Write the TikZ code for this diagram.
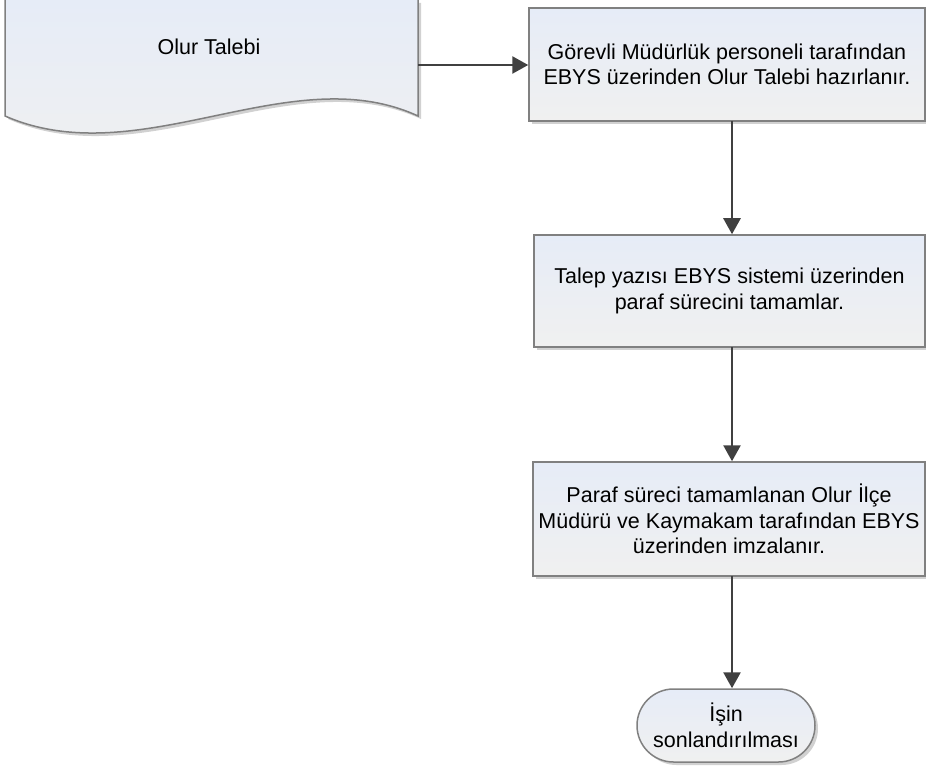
\documentclass[tikz,border=0pt]{standalone}
\usepackage{fontspec}
\setmainfont{Liberation Sans}
\usetikzlibrary{shadows,arrows.meta,shapes.misc}
\definecolor{boxtop}{RGB}{230,236,247}
\definecolor{boxbot}{RGB}{240,240,240}
\definecolor{edgegray}{RGB}{128,128,128}
\definecolor{arrowgray}{RGB}{64,64,64}
\tikzset{
  txt/.style={font=\fontsize{21.5}{25.5}\selectfont, align=center, text=black},
  procbox/.style={draw=edgegray, line width=1.5pt, top color=boxtop, bottom color=boxbot,
     drop shadow={shadow xshift=3pt, shadow yshift=-3pt, fill=black!30, opacity=0.6}},
  flow/.style={draw=arrowgray, line width=2.6pt, -{Triangle[length=16pt,width=17pt]}},
}
\begin{document}
\begin{tikzpicture}[x=1pt,y=-1pt]
\useasboundingbox (0,0) rectangle (926,770);
% document shape
\fill[black!30, opacity=0.6] (8,3) -- (8,119) .. controls (143,178) and (293,60) .. (421,119) -- (421,3) -- cycle;
\path[top color=boxtop, bottom color=boxbot] (5,0) -- (5,116) .. controls (140,175) and (290,57) .. (418,116) -- (418,0) -- cycle;
\draw[edgegray, line width=1.5pt] (5,0) -- (5,116) .. controls (140,175) and (290,57) .. (418,116) -- (418,0);
\node[txt] (doc) at (209,47) {Olur Talebi};
\coordinate (docout) at (418,65);
% boxes
\node[procbox, minimum width=396pt, minimum height=113pt, txt] (b1) at (727,64.5)
  {Görevli Müdürlük personeli tarafından\\EBYS üzerinden Olur Talebi hazırlanır.};
\node[procbox, minimum width=391pt, minimum height=112pt, txt] (b2) at (729.5,291)
  {Talep yazısı EBYS sistemi üzerinden\\paraf sürecini tamamlar.};
\node[procbox, minimum width=392pt, minimum height=114pt, txt] (b3) at (729,519)
  {Paraf süreci tamamlanan Olur İlçe\\Müdürü ve Kaymakam tarafından EBYS\\üzerinden imzalanır.};
\node[procbox, rounded rectangle, minimum width=182pt, minimum height=73pt, inner sep=2pt, txt] (end) at (726,725.5)
  {İşin\\sonlandırılması};
% connectors
\draw[flow] (docout) -- (b1.west |- docout);
\draw[flow] (732,121) coordinate (c1) -- (c1 |- b2.north);
\draw[flow] (732,347) coordinate (c2) -- (c2 |- b3.north);
\draw[flow] (732,576) coordinate (c3) -- (c3 |- end.north);
\end{tikzpicture}
\end{document}
